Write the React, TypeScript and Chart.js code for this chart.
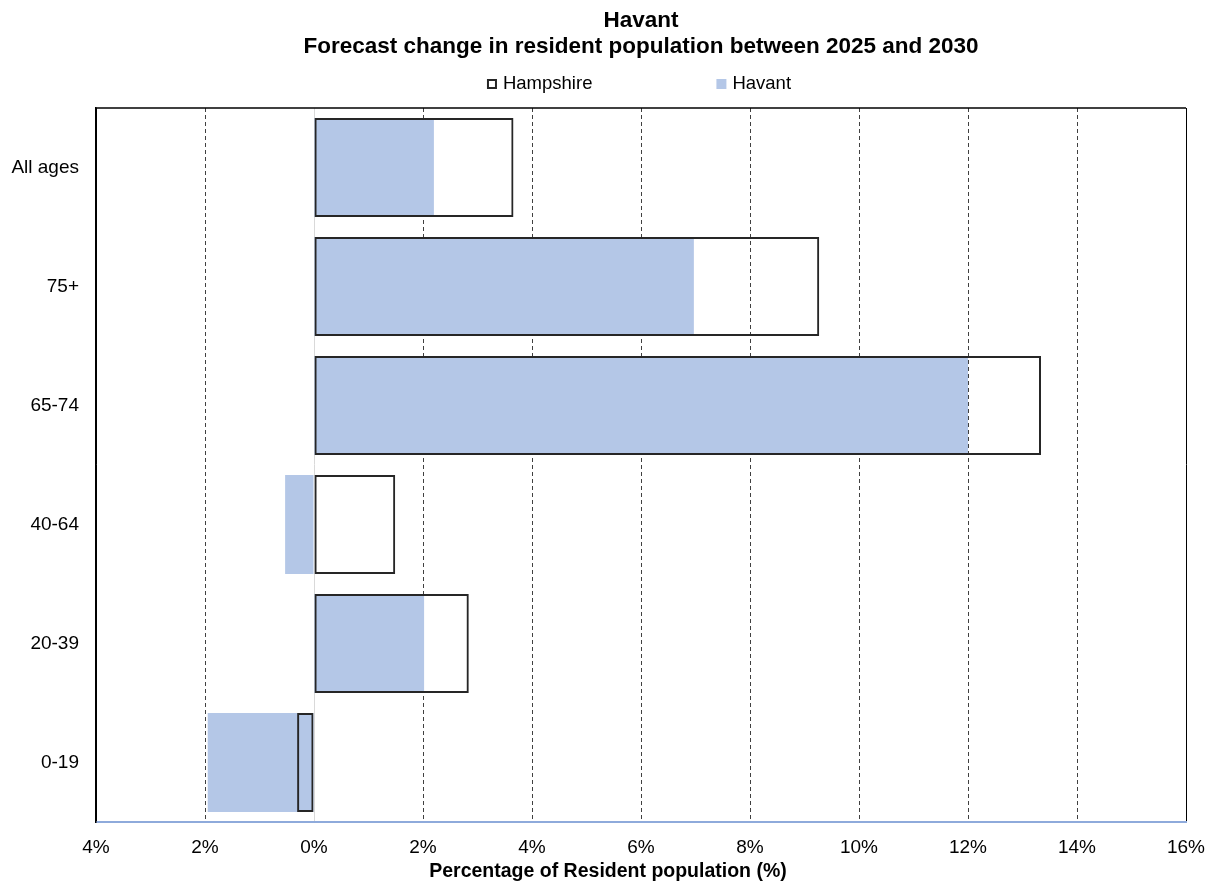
import React, { useEffect, useRef } from 'react';
import { Chart, registerables } from 'chart.js';

Chart.register(...registerables);

const categories = ['All ages', '75+', '65-74', '40-64', '20-39', '0-19'];
const hampshireValues = [3.66, 9.27, 13.34, 1.49, 2.84, -0.31];
const havantValues = [2.2, 6.97, 12.0, -0.53, 2.02, -1.95];
const xMin = -4;
const xMax = 16;
const xStep = 2;
const titleLines = ['Havant', 'Forecast change in resident population between 2025 and 2030'];
const xAxisTitle = 'Percentage of Resident population (%)';
const seriesNames = ['Hampshire', 'Havant'];

const FONT = '"Liberation Sans", Arial, sans-serif';
const HAVANT_BLUE = '#b4c7e7';

const legendPlugin = {
  id: 'customLegend',
  afterDraw(chart: any) {
    const ctx = chart.ctx;
    const ds = chart.data.datasets;
    ctx.save();
    ctx.font = `18.5px ${FONT}`;
    ctx.textBaseline = 'middle';
    ctx.textAlign = 'left';
    const box = 10;
    const gap = 6;
    const spacing = 124;
    const widths = ds.map((d: any) => ctx.measureText(d.label).width);
    const total = widths.reduce((s: number, w: number) => s + box + gap + w, 0) + spacing * (ds.length - 1);
    const cx = (chart.chartArea.left + chart.chartArea.right) / 2 - 2;
    let x = cx - total / 2;
    const y = 84;
    ds.forEach((d: any, i: number) => {
      if (i === 0) {
        ctx.fillStyle = '#fff';
        ctx.fillRect(x, y - 5, box, box);
        ctx.strokeStyle = '#262626';
        ctx.lineWidth = 2;
        ctx.strokeRect(x + 1, y - 4, box - 2, box - 2);
      } else {
        ctx.fillStyle = d.backgroundColor;
        ctx.fillRect(x, y - 5, box, box);
      }
      ctx.fillStyle = '#000';
      ctx.fillText(d.label, x + box + gap, y);
      x += box + gap + widths[i] + spacing;
    });
    ctx.restore();
  },
};

const framePlugin = {
  id: 'frameTop',
  afterDatasetsDraw(chart: any) {
    const { ctx, chartArea } = chart;
    ctx.save();
    ctx.strokeStyle = '#000';
    ctx.lineWidth = 1.5;
    ctx.beginPath();
    ctx.moveTo(chartArea.left, chartArea.top);
    ctx.lineTo(chartArea.right, chartArea.top);
    ctx.stroke();
    ctx.restore();
  },
};

const axisTitlePlugin = {
  id: 'xAxisTitle',
  afterDraw(chart: any) {
    const ctx = chart.ctx;
    ctx.save();
    ctx.font = `bold 19.5px ${FONT}`;
    ctx.fillStyle = '#000';
    ctx.textAlign = 'center';
    ctx.textBaseline = 'middle';
    ctx.fillText(xAxisTitle, chart.width / 2 + 0.5, 872);
    ctx.restore();
  },
};

export default function App() {
  const canvasRef = useRef<HTMLCanvasElement | null>(null);

  useEffect(() => {
    if (!canvasRef.current) return;
    const chart = new Chart(canvasRef.current, {
      type: 'bar',
      data: {
        labels: categories,
        datasets: [
          {
            label: seriesNames[0],
            data: hampshireValues,
            backgroundColor: 'rgba(255,255,255,0)',
            borderColor: '#262626',
            borderWidth: 2,
            borderSkipped: false,
          },
          {
            label: seriesNames[1],
            data: havantValues,
            backgroundColor: HAVANT_BLUE,
            borderWidth: 0,
          },
        ],
      },
      plugins: [legendPlugin, framePlugin, axisTitlePlugin],
      options: {
        indexAxis: 'y',
        animation: false,
        responsive: false,
        devicePixelRatio: 1,
        layout: { padding: { left: 0, right: 29, top: 0, bottom: 0 } },
        datasets: {
          bar: {
            grouped: false,
            categoryPercentage: 1,
            barPercentage: 0.83,
          },
        },
        plugins: {
          legend: { display: false },
          tooltip: { enabled: false },
          title: {
            display: true,
            fullSize: false,
            text: titleLines,
            color: '#000',
            font: { family: FONT, size: 22.5, weight: 'bold', lineHeight: 26 / 22.5 },
            padding: { top: 7.5, bottom: 48.5 },
          },
        },
        scales: {
          x: {
            type: 'linear',
            min: xMin,
            max: xMax,
            ticks: {
              stepSize: xStep,
              color: '#000',
              font: { family: FONT, size: 19 },
              padding: 14,
              callback: (v: any) => Math.abs(Number(v)) + '%',
            },
            grid: {
              drawTicks: false,
              lineWidth: 1,
              color: (ctx: any) => {
                if (!ctx.tick) return '#595959';
                const v = ctx.tick.value;
                if (v === 0) return '#d9d9d9';
                if (v === xMin || v === xMax) return '#000';
                return '#404040';
              },
            },
            border: {
              display: true,
              color: '#8eaadb',
              width: 2,
              dash: (ctx: any) => {
                if (!ctx.tick) return [];
                const v = ctx.tick.value;
                if (v === 0 || v === xMin || v === xMax) return [];
                return [4, 3];
              },
            },
            title: { display: false },
            afterFit: (scale: any) => {
              scale.height = 71;
              scale.paddingRight = 0;
              scale.paddingLeft = 0;
            },
          },
          y: {
            type: 'category',
            ticks: {
              color: '#000',
              font: { family: FONT, size: 19 },
              padding: 17,
            },
            grid: { display: false, drawTicks: false },
            border: { display: true, color: '#000', width: 1.5 },
            afterFit: (scale: any) => {
              scale.width = 96;
            },
          },
        },
      },
    } as any);
    return () => chart.destroy();
  }, []);

  return (
    <div style={{ position: 'fixed', left: 0, top: 0, width: 1215, height: 893, background: '#fff' }}>
      <canvas ref={canvasRef} width={1215} height={893} />
    </div>
  );
}
